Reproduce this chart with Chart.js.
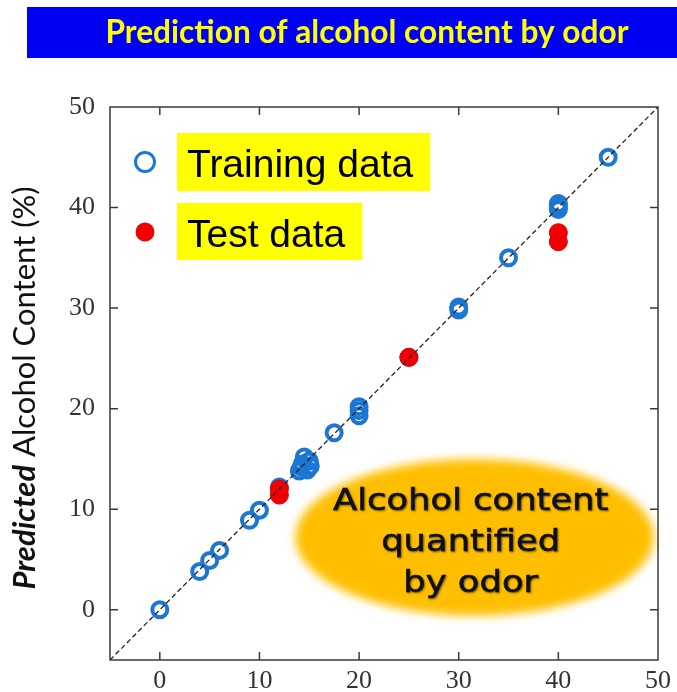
<!DOCTYPE html>
<html>
<head>
<meta charset="utf-8">
<script src="https://cdn.jsdelivr.net/npm/chart.js@4"></script>
<style>
  html, body { margin: 0; padding: 0; background: #fff; }
</style>
</head>
<body>
<canvas id="chart" width="677" height="692"></canvas>
<script>
// measured vs predicted alcohol content (%)
const trainingX = [0, 4, 5, 6, 9, 10, 12, 14, 14.3, 14.5, 14.8, 15, 15.1, 14.2, 17.5, 20, 20, 20, 25, 30, 30, 35, 40, 40, 40, 45];
const trainingY = [0, 3.8, 4.9, 5.9, 8.9, 9.9, 12.2, 13.8, 14.5, 15.2, 13.9, 14.8, 14.3, 14.2, 17.6, 19.3, 19.8, 20.2, 25.1, 29.8, 30.1, 35, 39.8, 40.1, 40.4, 45];
const testX = [12, 12, 25, 40, 40];
const testY = [11.4, 12, 25.1, 36.6, 37.5];
const diagonalX = [-5, 50];
const diagonalY = [-5, 50];
const tickValues = [0, 10, 20, 30, 40, 50];

const chartTitle = 'Prediction of alcohol content by odor';
const yTitleBold = 'Predicted';
const yTitleRest = ' Alcohol Content (%)';
const calloutLines = ['Alcohol content', 'quantified', 'by odor'];
const calloutCenter = { x: 31.6, y: 7.2 };
const calloutRadius = { x: 18.0, y: 7.8 };

const BLUE = '#1b76d4';
const RED = '#f00000';

const toPoints = (xs, ys) => xs.map((x, i) => ({ x: x, y: ys[i] }));

const decorations = {
    id: 'decorations',
    beforeDraw(chart) {
        const ctx = chart.ctx;
        ctx.save();
        ctx.fillStyle = '#fff';
        ctx.fillRect(0, 0, chart.width, chart.height);

        // title banner
        ctx.fillStyle = '#0000f2';
        ctx.fillRect(27, 7, chart.width - 27, 51);
        ctx.fillStyle = '#ffff00';
        ctx.font = 'bold 32px Lato';
        ctx.textAlign = 'center';
        ctx.textBaseline = 'middle';
        ctx.fillText(chartTitle, 367, 33, 523);

        // y axis title, mixed styles
        ctx.translate(25, 388);
        ctx.rotate(-Math.PI / 2);
        ctx.textAlign = 'left';
        ctx.fillStyle = '#111';
        ctx.font = 'italic bold 31px Lato';
        const w1 = ctx.measureText(yTitleBold).width;
        ctx.font = '31px Lato';
        const w2 = ctx.measureText(yTitleRest).width;
        let start = -(w1 + w2) / 2;
        ctx.font = 'italic bold 31px Lato';
        ctx.fillText(yTitleBold, start, 0);
        ctx.font = '31px Lato';
        ctx.fillText(yTitleRest, start + w1, 0);
        ctx.restore();
    },
    beforeDatasetsDraw(chart) {
        const ctx = chart.ctx;
        const x = chart.scales.x, y = chart.scales.y;
        const cx = x.getPixelForValue(calloutCenter.x);
        const cy = y.getPixelForValue(calloutCenter.y);
        const rx = x.getPixelForValue(calloutCenter.x + calloutRadius.x) - cx;
        const ry = cy - y.getPixelForValue(calloutCenter.y + calloutRadius.y);
        ctx.save();
        ctx.filter = 'blur(5px)';
        ctx.fillStyle = '#ffbf00';
        ctx.beginPath();
        ctx.ellipse(cx, cy, rx, ry, 0, 0, Math.PI * 2);
        ctx.fill();
        ctx.restore();

        ctx.save();
        ctx.font = '31px "DejaVu Sans"';
        ctx.textAlign = 'center';
        ctx.textBaseline = 'alphabetic';
        ctx.fillStyle = '#111';
        ctx.strokeStyle = '#111';
        ctx.lineWidth = 0.6;
        ctx.shadowColor = 'rgba(0,0,0,0.45)';
        ctx.shadowBlur = 2;
        ctx.shadowOffsetX = 1;
        ctx.shadowOffsetY = 1;
        const offsets = [-27, 14, 55];
        calloutLines.forEach((line, i) => {
            ctx.save();
            ctx.translate(cx - 4, cy + offsets[i]);
            ctx.scale(1.14, 1);
            ctx.fillText(line, 0, 0);
            ctx.strokeText(line, 0, 0);
            ctx.restore();
        });
        ctx.restore();
    },
    afterDraw(chart) {
        const ctx = chart.ctx;
        const a = chart.chartArea;
        const x = chart.scales.x, y = chart.scales.y;
        ctx.save();
        ctx.strokeStyle = '#3a3a3a';
        ctx.lineWidth = 1.5;
        ctx.strokeRect(a.left, a.top, a.right - a.left, a.bottom - a.top);

        // inward ticks on all four sides
        const tl = 8;
        ctx.beginPath();
        tickValues.forEach(v => {
            const px = x.getPixelForValue(v);
            if (px < a.right - 1) {
                ctx.moveTo(px, a.bottom); ctx.lineTo(px, a.bottom - tl);
                ctx.moveTo(px, a.top); ctx.lineTo(px, a.top + tl);
            }
            const py = y.getPixelForValue(v);
            if (py > a.top + 1) {
                ctx.moveTo(a.left, py); ctx.lineTo(a.left + tl, py);
                ctx.moveTo(a.right, py); ctx.lineTo(a.right - tl, py);
            }
        });
        ctx.stroke();

        // legend with highlighted labels
        const items = [
            { ds: chart.data.datasets[2], cy: 162, top: 133, h: 58 },
            { ds: chart.data.datasets[1], cy: 232, top: 203, h: 57 }
        ];
        ctx.font = '39px "Liberation Sans"';
        ctx.textAlign = 'left';
        ctx.textBaseline = 'alphabetic';
        items.forEach(it => {
            const tw = ctx.measureText(it.ds.label).width;
            ctx.fillStyle = '#ffff00';
            ctx.fillRect(177, it.top, tw + 27, it.h);
            ctx.fillStyle = '#000';
            ctx.fillText(it.ds.label, 187, it.top + 44);
            ctx.beginPath();
            ctx.arc(145, it.cy, 9.5, 0, Math.PI * 2);
            if (it.ds.label === 'Test data') {
                ctx.fillStyle = RED;
                ctx.fill();
            } else {
                ctx.strokeStyle = BLUE;
                ctx.lineWidth = 3;
                ctx.stroke();
            }
        });
        ctx.restore();
    }
};

const tickFont = { family: '"Liberation Serif", serif', size: 26 };

new Chart(document.getElementById('chart'), {
    type: 'scatter',
    data: {
        datasets: [
            {
                type: 'line',
                label: 'y = x',
                data: toPoints(diagonalX, diagonalY),
                borderColor: '#222',
                borderWidth: 1.3,
                borderDash: [5, 3],
                pointRadius: 0,
                fill: false,
                order: 0
            },
            {
                label: 'Test data',
                data: toPoints(testX, testY),
                backgroundColor: RED,
                borderColor: '#e00000',
                borderWidth: 1,
                pointRadius: 9,
                order: 1
            },
            {
                label: 'Training data',
                data: toPoints(trainingX, trainingY),
                backgroundColor: 'rgba(0,0,0,0)',
                borderColor: BLUE,
                borderWidth: 4,
                pointRadius: 7.5,
                order: 2
            }
        ]
    },
    options: {
        responsive: false,
        animation: false,
        events: [],
        layout: { padding: { top: 107, right: 15, left: 0, bottom: 0 } },
        plugins: {
            legend: { display: false },
            tooltip: { enabled: false },
            title: { display: false }
        },
        scales: {
            x: {
                type: 'linear',
                min: -5,
                max: 50,
                afterBuildTicks: s => { s.ticks = tickValues.map(v => ({ value: v })); },
                afterFit: s => { s.height = 32; },
                grid: { display: false, drawTicks: false },
                border: { display: false },
                ticks: { font: tickFont, color: '#333', padding: 6, maxRotation: 0, autoSkip: false }
            },
            y: {
                type: 'linear',
                min: -5,
                max: 50,
                afterBuildTicks: s => { s.ticks = tickValues.map(v => ({ value: v })); },
                afterFit: s => { s.width = 110; },
                grid: { display: false, drawTicks: false },
                border: { display: false },
                ticks: { font: tickFont, color: '#333', padding: 15, autoSkip: false }
            }
        }
    },
    plugins: [decorations]
});
</script>
</body>
</html>
